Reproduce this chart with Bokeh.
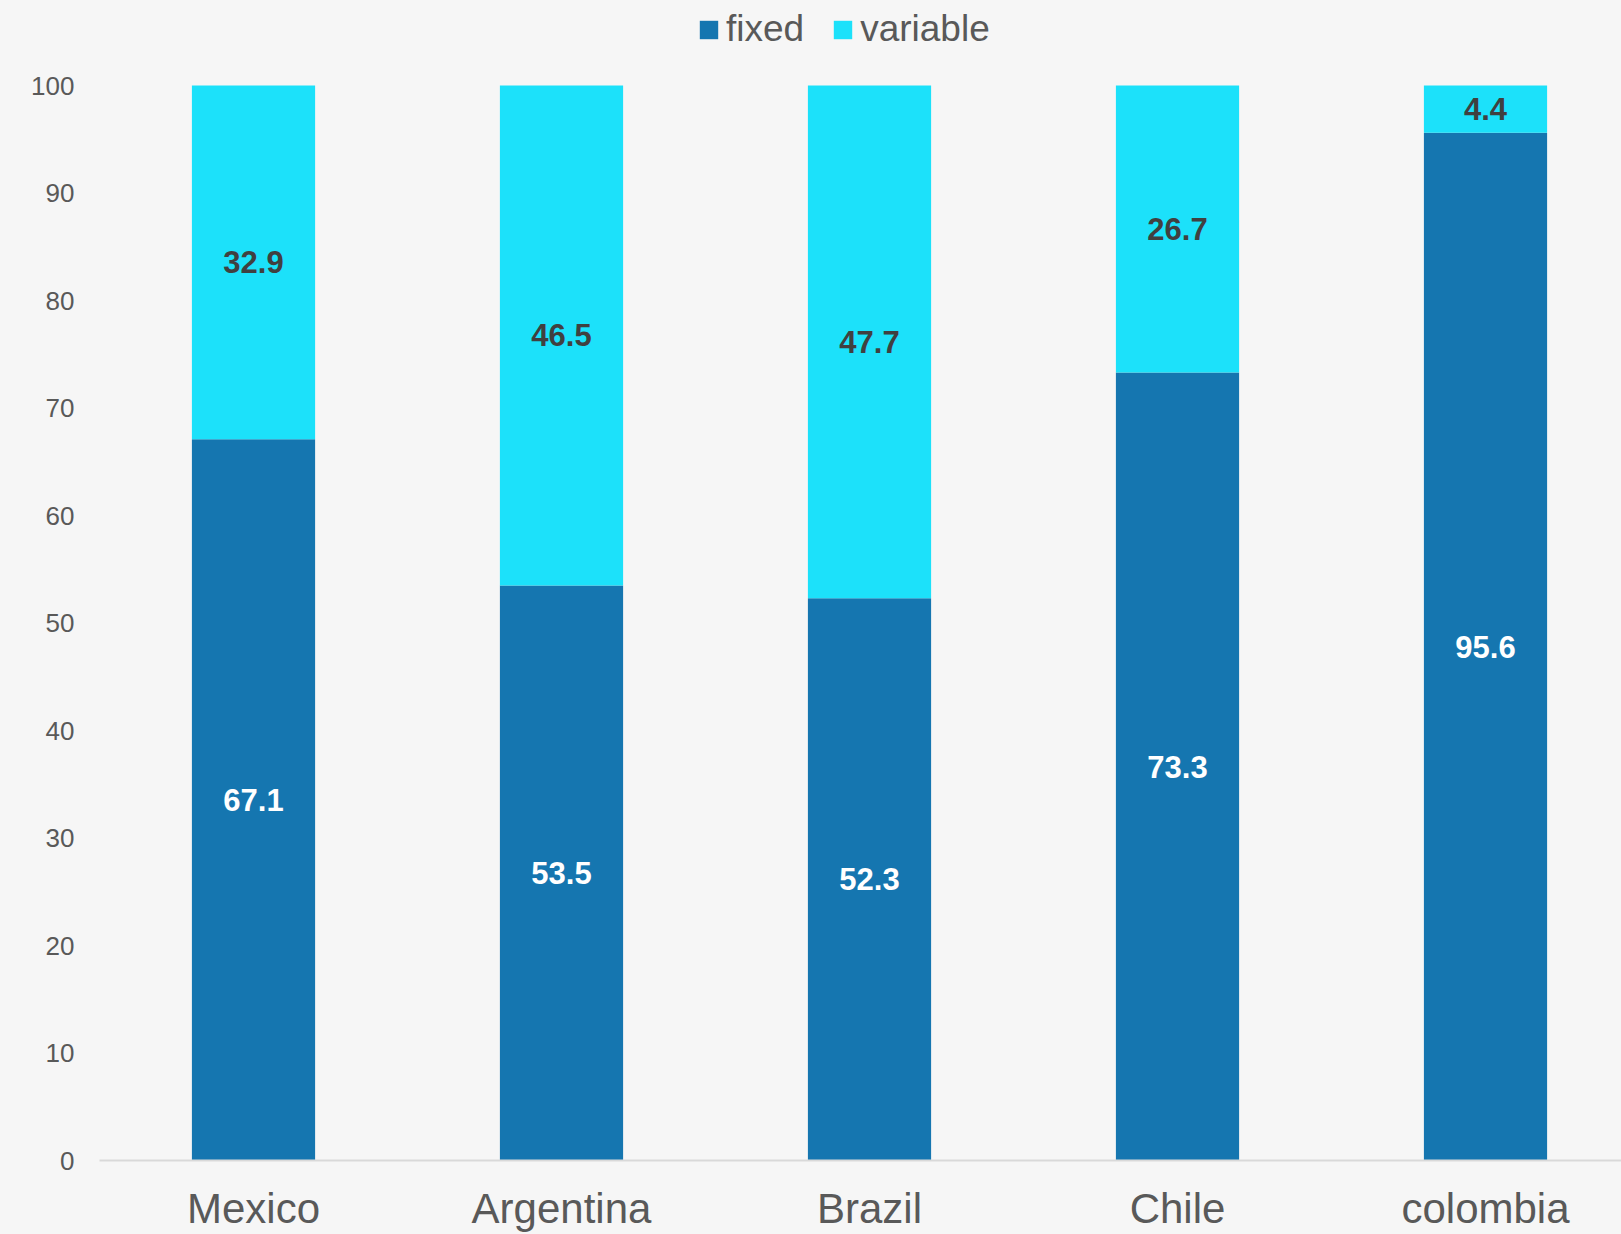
from bokeh.plotting import figure
from bokeh.models import ColumnDataSource, Range1d, FixedTicker, Legend, LegendItem, LabelSet
from bokeh.core.properties import value
from bokeh.embed import file_html
from bokeh.resources import INLINE

categories = ["Mexico", "Argentina", "Brazil", "Chile", "colombia"]
fixed = [67.1, 53.5, 52.3, 73.3, 95.6]
variable = [32.9, 46.5, 47.7, 26.7, 4.4]
y_ticks = [0, 10, 20, 30, 40, 50, 60, 70, 80, 90, 100]

BG = "#f6f6f6"
DARK = "#1576b0"
CYAN = "#1ce1fa"
TXT = "#595959"
FONT = "Liberation Sans"

xs = [i + 1 for i in range(len(categories))]
source = ColumnDataSource(dict(
    x=xs,
    cat=categories,
    fixed=fixed,
    variable=variable,
    fixed_mid=[f / 2 for f in fixed],
    var_mid=[f + v / 2 for f, v in zip(fixed, variable)],
    fixed_lbl=[f"{f:.1f}" for f in fixed],
    var_lbl=[f"{v:.1f}" for v in variable],
))

W, H = 1621, 1234
LEFT, BOTTOM = 99, 74
PX_X = 308.0      # pixels per category
PX_Y = 10.75      # pixels per y unit
frame_w = W - LEFT
frame_h = H - BOTTOM

p = figure(width=W, height=H, output_backend="svg", toolbar_location=None,
           x_range=Range1d(0.5, 0.5 + frame_w / PX_X), y_range=Range1d(0, frame_h / PX_Y),
           min_border_left=LEFT, min_border_right=0, min_border_top=0, min_border_bottom=BOTTOM)
p.background_fill_color = BG
p.border_fill_color = BG
p.outline_line_color = None
p.xgrid.visible = False
p.ygrid.visible = False

rs = p.vbar_stack(["fixed", "variable"], x="x", width=0.4, source=source,
                  color=[DARK, CYAN], line_color=None)

lbl_fixed = LabelSet(x="x", y="fixed_mid", text="fixed_lbl", source=source,
                     text_align="center", text_baseline="middle", text_color="white",
                     text_font=value(FONT), text_font_size="31px", text_font_style="bold")
lbl_var = LabelSet(x="x", y="var_mid", text="var_lbl", source=source,
                   text_align="center", text_baseline="middle", text_color="#404040",
                   text_font=value(FONT), text_font_size="31px", text_font_style="bold")
p.add_layout(lbl_fixed)
p.add_layout(lbl_var)

# x axis
xa = p.xaxis[0]
xa.ticker = FixedTicker(ticks=xs)
xa.major_label_overrides = {x: c for x, c in zip(xs, categories)}
xa.axis_line_color = "#d9d9d9"
xa.axis_line_width = 2
xa.major_tick_line_color = None
xa.minor_tick_line_color = None
xa.major_tick_out = 0
xa.major_tick_in = 0
xa.major_label_standoff = 24
xa.major_label_text_font = FONT
xa.major_label_text_font_size = "42px"
xa.major_label_text_color = TXT

# y axis
ya = p.yaxis[0]
ya.ticker = FixedTicker(ticks=y_ticks)
ya.axis_line_color = None
ya.major_tick_line_color = None
ya.minor_tick_line_color = None
ya.major_tick_out = 0
ya.major_tick_in = 0
ya.major_label_standoff = 25
ya.major_label_text_font = FONT
ya.major_label_text_font_size = "26px"
ya.major_label_text_color = TXT

legend = Legend(items=[LegendItem(label="fixed", renderers=[rs[0]]),
                       LegendItem(label="variable", renderers=[rs[1]])],
                orientation="horizontal", location=(598, 1110),
                padding=0, margin=0, spacing=27, label_standoff=6,
                glyph_width=23, glyph_height=23,
                label_text_font=FONT, label_text_font_size="37px",
                label_text_color=TXT, background_fill_alpha=0,
                border_line_color=None)
p.add_layout(legend, "center")

html = file_html(p, INLINE)
html = html.replace("</head>", "<style>html, body { background-color: #f6f6f6; }</style></head>", 1)
open("out.html", "w").write(html)
